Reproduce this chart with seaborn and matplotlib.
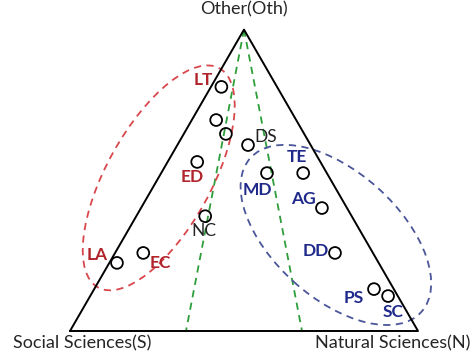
import numpy as np
import pandas as pd
import matplotlib
matplotlib.use('Agg')
import matplotlib.pyplot as plt
import seaborn as sns
from matplotlib.patches import Ellipse

# ternary compositions (Social, Natural, Other) per discipline
names = ['LT', '', '', 'DS', 'ED', 'MD', 'TE', 'AG', 'NC', 'LA', 'EC', 'DD', 'PS', 'SC']
share_S = [0.16, 0.23, 0.225, 0.18, 0.354, 0.172, 0.068, 0.072, 0.421, 0.752, 0.66, 0.109, 0.057, 0.028]
share_N = [0.03, 0.07, 0.121, 0.203, 0.085, 0.304, 0.408, 0.52, 0.198, 0.022, 0.081, 0.632, 0.804, 0.856]
share_Oth = [0.81, 0.70, 0.654, 0.617, 0.561, 0.524, 0.524, 0.408, 0.381, 0.226, 0.259, 0.259, 0.139, 0.116]
groups = ['soc', 'none', 'none', 'none', 'soc', 'nat', 'nat', 'nat', 'none',
          'soc', 'soc', 'nat', 'nat', 'nat']
# boundaries: N/(N+S) share where the dashed green lines meet the base
splits = [1 / 3, 2 / 3]

H = np.sqrt(3) / 2


def to_xy(s, n, o):
	tot = np.asarray(s) + np.asarray(n) + np.asarray(o)
	n = np.asarray(n) / tot
	o = np.asarray(o) / tot
	return n + 0.5 * o, o * H


df = pd.DataFrame({'name': names, 'S': share_S, 'N': share_N, 'Oth': share_Oth, 'group': groups})
df['x'], df['y'] = to_xy(df['S'], df['N'], df['Oth'])

sns.set_style('white')
plt.rcParams['font.family'] = ['Lato', 'DejaVu Sans']

fig = plt.figure(figsize=(4.75, 3.53), dpi=100)
ax = fig.add_axes([0, 0, 1, 1])
ax.set_xlim(-70 / 348, 405 / 348)
ax.set_ylim(-22 / 348, 331 / 348)
ax.axis('off')

# triangle
tri_x = [0, 1, 0.5, 0]
tri_y = [0, 0, H, 0]
ax.plot(tri_x, tri_y, color='black', lw=1.4, zorder=2)

# green dividing lines from apex
for f in splits:
	ax.plot([0.5, f], [H, 0], color='#2e9e3a', lw=1.3, ls=(0, (4, 3)), zorder=1)

# dashed group ellipses
ax.add_patch(Ellipse((0.255, 0.44), 0.72, 0.30, angle=61, fill=False,
					 ec='#d9474c', lw=1.3, ls=(0, (4, 3)), zorder=1))
ax.add_patch(Ellipse((0.764, 0.276), 0.661, 0.362, angle=-42, fill=False,
					 ec='#4a5699', lw=1.3, ls=(0, (4, 3)), zorder=1))

sns.scatterplot(data=df, x='x', y='y', ax=ax, marker='o', s=72,
				facecolor='none', edgecolor='black', linewidth=1.3, zorder=3, legend=False)

colors = {'soc': '#b2242b', 'nat': '#1f2a8a', 'none': '#222222'}
offsets = {'LT': (-18, 7), 'DS': (18, 8), 'ED': (-5, -15), 'MD': (-10, -17),
		   'TE': (-6, 16), 'AG': (-18, 9), 'NC': (-1, -15), 'LA': (-20, 8),
		   'EC': (17, -10), 'DD': (-19, 2), 'PS': (-20, -9), 'SC': (5, -16)}
for _, r in df.iterrows():
	if not r['name']:
		continue
	bold = r['group'] != 'none'
	ax.annotate(r['name'], (r['x'], r['y']), xytext=offsets[r['name']],
				textcoords='offset pixels', ha='center', va='center',
				fontsize=12.5, fontweight='bold' if bold else 'normal',
				color=colors[r['group']], zorder=4)

ax.text(0.5, H + 20 / 348, 'Other(Oth)', ha='center', va='center', fontsize=13)
ax.text(-57 / 348, -12 / 348, 'Social Sciences(S)', ha='left', va='center', fontsize=13)
ax.text(400 / 348, -12 / 348, 'Natural Sciences(N)', ha='right', va='center', fontsize=13)

fig.savefig('out.png', dpi=100)
